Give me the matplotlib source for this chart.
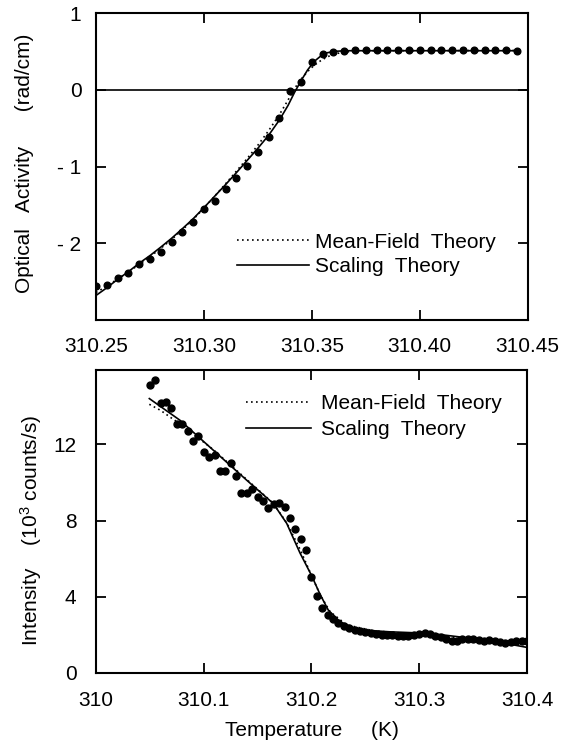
import matplotlib
matplotlib.use('Agg')
import matplotlib.pyplot as plt

plt.rcParams['font.family'] = ['Liberation Sans', 'DejaVu Sans']
plt.rcParams['mathtext.fontset'] = 'custom'
plt.rcParams['mathtext.rm'] = 'Liberation Sans'
plt.rcParams['mathtext.it'] = 'Liberation Sans:italic'
plt.rcParams['mathtext.bf'] = 'Liberation Sans:bold'

# ---- top panel: optical activity ----
oa_temp = [310.250, 310.255, 310.260, 310.265, 310.270, 310.275, 310.280, 310.285,
           310.290, 310.295, 310.300, 310.305, 310.310, 310.315, 310.320, 310.325,
           310.330, 310.335, 310.340, 310.345, 310.350, 310.355, 310.360, 310.365,
           310.370, 310.375, 310.380, 310.385, 310.390, 310.395, 310.400, 310.405,
           310.410, 310.415, 310.420, 310.425, 310.430, 310.435, 310.440, 310.445]
oa_value = [-2.555, -2.547, -2.447, -2.390, -2.270, -2.203, -2.108, -1.986,
            -1.847, -1.717, -1.556, -1.443, -1.291, -1.152, -0.987, -0.804,
            -0.609, -0.369, -0.009, 0.108, 0.369, 0.465, 0.491, 0.513,
            0.522, 0.525, 0.522, 0.522, 0.525, 0.522, 0.522, 0.522,
            0.525, 0.522, 0.520, 0.520, 0.518, 0.520, 0.518, 0.513]

oa_scal_t = [310.250, 310.255, 310.260, 310.265, 310.270, 310.275, 310.280,
             310.285, 310.290, 310.295, 310.300, 310.305, 310.310, 310.315,
             310.320, 310.325, 310.330, 310.335, 310.339, 310.342, 310.345,
             310.348, 310.351, 310.354, 310.357, 310.361, 310.366, 310.445]
oa_scal_v = [-2.680, -2.580, -2.470, -2.370, -2.260, -2.160, -2.050,
             -1.935, -1.810, -1.680, -1.535, -1.385, -1.235, -1.080,
             -0.920, -0.760, -0.590, -0.390, -0.200, -0.030, 0.120,
             0.260, 0.370, 0.440, 0.485, 0.505, 0.512, 0.512]

oa_mf_t = [310.250, 310.255, 310.260, 310.265, 310.270, 310.275, 310.280,
           310.285, 310.290, 310.295, 310.300, 310.305, 310.310, 310.315,
           310.320, 310.325, 310.330, 310.335, 310.339, 310.342, 310.345,
           310.348, 310.351, 310.354, 310.357, 310.360, 310.364, 310.369,
           310.376, 310.445]
oa_mf_v = [-2.640, -2.560, -2.465, -2.375, -2.275, -2.175, -2.065,
           -1.950, -1.825, -1.690, -1.540, -1.385, -1.225, -1.060,
           -0.895, -0.720, -0.530, -0.320, -0.130, 0.020, 0.140,
           0.240, 0.320, 0.380, 0.430, 0.465, 0.490, 0.505,
           0.512, 0.515]

# ---- bottom panel: intensity ----
int_temp = [310.050, 310.055, 310.060, 310.065, 310.070, 310.075, 310.080, 310.085,
            310.090, 310.095, 310.100, 310.105, 310.110, 310.115, 310.120, 310.125,
            310.130, 310.135, 310.140, 310.145, 310.150, 310.155, 310.160, 310.165,
            310.170, 310.175, 310.180, 310.185, 310.190, 310.195, 310.200, 310.205,
            310.210, 310.215, 310.220, 310.225, 310.230, 310.235, 310.240, 310.245,
            310.250, 310.255, 310.260, 310.265, 310.270, 310.275, 310.280, 310.285,
            310.290, 310.295, 310.300, 310.305, 310.310, 310.315, 310.320, 310.325,
            310.330, 310.335, 310.340, 310.345, 310.350, 310.355, 310.360, 310.365,
            310.370, 310.375, 310.380, 310.385, 310.390, 310.395, 310.400]
int_value = [15.09, 15.36, 14.19, 14.22, 13.91, 13.09, 13.09, 12.68,
             12.16, 12.44, 11.60, 11.31, 11.43, 10.60, 10.60, 11.02,
             10.34, 9.42, 9.45, 9.66, 9.26, 9.00, 8.67, 8.85,
             8.90, 8.72, 8.12, 7.58, 7.01, 6.46, 5.05, 4.04,
             3.39, 3.02, 2.82, 2.60, 2.46, 2.34, 2.25, 2.20,
             2.13, 2.08, 2.04, 2.02, 2.00, 1.97, 1.94, 1.95,
             1.93, 1.98, 2.05, 2.08, 2.03, 1.95, 1.90, 1.80,
             1.68, 1.70, 1.76, 1.80, 1.76, 1.72, 1.68, 1.74,
             1.70, 1.62, 1.58, 1.62, 1.66, 1.68, 1.69]

int_scal_t = [310.0495, 310.078, 310.1089, 310.1398, 310.1646, 310.177, 310.1893,
              310.2002, 310.2079, 310.2156, 310.2265, 310.2388, 310.2512, 310.2729,
              310.310, 310.3409, 310.3719, 310.3993]
int_scal_v = [14.40, 13.26, 11.69, 10.12, 8.89, 7.85, 6.30,
              5.10, 4.13, 3.30, 2.69, 2.38, 2.24, 2.16,
              2.08, 1.87, 1.64, 1.35]

int_mf_t = [310.0495, 310.060, 310.070, 310.080, 310.090, 310.1089, 310.1398,
            310.1646, 310.177, 310.1893, 310.1986, 310.2079, 310.2172, 310.2327,
            310.2574, 310.2729, 310.310, 310.3409, 310.3719, 310.3993]
int_mf_v = [14.10, 13.78, 13.38, 13.00, 12.55, 11.72, 10.16,
            8.90, 7.88, 6.50, 5.30, 4.12, 3.22, 2.52,
            2.22, 2.14, 2.00, 1.82, 1.70, 1.58]

oa_xticks = [310.25, 310.30, 310.35, 310.40, 310.45]
oa_xlabels = ['310.25', '310.30', '310.35', '310.40', '310.45']
oa_yticks = [-2, -1, 0, 1]
oa_ylabels = ['- 2', '- 1', '0', '1']
int_xticks = [310.0, 310.1, 310.2, 310.3, 310.4]
int_xlabels = ['310', '310.1', '310.2', '310.3', '310.4']
int_yticks = [0, 4, 8, 12]
int_ylabels = ['0', '4', '8', '12']

FS = 15


def style_axes(ax, xpad, ypad):
    for sp in ax.spines.values():
        sp.set_linewidth(1.5)
    ax.tick_params(direction='in', length=7, width=1.3, labelsize=FS,
                   top=True, right=True)
    ax.tick_params(axis='x', pad=xpad)
    ax.tick_params(axis='y', pad=ypad)


fig = plt.figure(figsize=(5.79, 7.42), dpi=100)

# top panel
ax1 = fig.add_axes([96 / 579, 1 - 320 / 742, 431.7 / 579, 306.7 / 742])
ax1.plot(oa_mf_t, oa_mf_v, color='black', lw=1.2, ls=(0, (1, 2)),
         label='Mean-Field  Theory')
ax1.plot(oa_scal_t, oa_scal_v, color='black', lw=1.2, label='Scaling  Theory')
ax1.plot(oa_temp, oa_value, 'o', color='black', ms=4.8, zorder=3)
ax1.axhline(0, color='black', lw=1.2)
ax1.set_xlim(310.25, 310.45)
ax1.set_ylim(-3, 1)
ax1.set_xticks(oa_xticks)
ax1.set_xticklabels(oa_xlabels)
ax1.set_yticks(oa_yticks)
ax1.set_yticklabels(oa_ylabels)
style_axes(ax1, 12.5, 10.5)
ax1.set_ylabel('Optical   Activity      (rad/cm)', fontsize=FS, va='center')
ax1.yaxis.set_label_coords(-0.166, 0.51)
ax1.legend(loc='upper left', bbox_to_anchor=(0.326, 0.285), frameon=False,
           fontsize=FS, handlelength=3.45, handletextpad=0.33,
           labelspacing=0.28, borderpad=0, borderaxespad=0)

# bottom panel
ax2 = fig.add_axes([96 / 579, 1 - 673 / 742, 431 / 579, 303 / 742])
ax2.plot(int_mf_t, int_mf_v, color='black', lw=1.2, ls=(0, (1, 2)),
         label='Mean-Field  Theory')
ax2.plot(int_scal_t, int_scal_v, color='black', lw=1.2, label='Scaling  Theory')
ax2.plot(int_temp, int_value, 'o', color='black', ms=5, zorder=3)
ax2.set_xlim(310.0, 310.4)
ax2.set_ylim(0, 15.9)
ax2.set_xticks(int_xticks)
ax2.set_xticklabels(int_xlabels)
ax2.set_yticks(int_yticks)
ax2.set_yticklabels(int_ylabels)
style_axes(ax2, 13, 14)
ax2.set_ylabel('Intensity    (10$^3$ counts/s)', fontsize=FS, va='center')
ax2.yaxis.set_label_coords(-0.150, 0.472)
ax2.set_xlabel('Temperature     (K)', fontsize=FS, labelpad=8)
ax2.legend(loc='upper left', bbox_to_anchor=(0.348, 0.92), frameon=False,
           fontsize=FS, handlelength=3.1, handletextpad=0.5,
           labelspacing=0.32, borderpad=0, borderaxespad=0)

fig.savefig('out.png', dpi=100)
